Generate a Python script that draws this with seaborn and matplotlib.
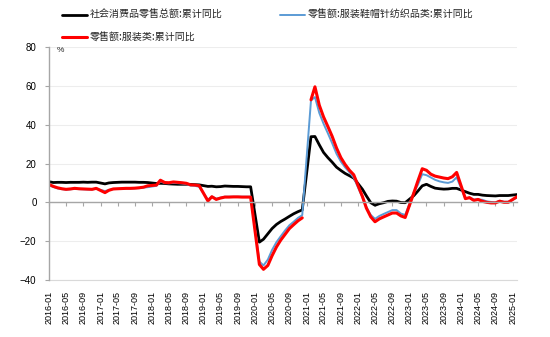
import numpy as np
import pandas as pd
import matplotlib
matplotlib.use("Agg")
import matplotlib.pyplot as plt
import matplotlib.dates as mdates
import seaborn as sns

# ---------------- data (cumulative YoY, %) ----------------
# one list per year, months Jan..Dec; None = month not published (Jan)
total_retail = {
    2016: [10.6, 10.2, 10.3, 10.3, 10.2, 10.3, 10.3, 10.3, 10.4, 10.3, 10.4, 10.4],
    2017: [None, 9.5, 10.0, 10.2, 10.3, 10.4, 10.4, 10.4, 10.4, 10.3, 10.3, 10.2],
    2018: [None, 9.7, 9.8, 9.7, 9.5, 9.4, 9.3, 9.3, 9.3, 9.2, 9.1, 9.0],
    2019: [None, 8.2, 8.3, 8.0, 8.1, 8.4, 8.3, 8.2, 8.2, 8.1, 8.0, 8.0],
    2020: [None, -20.5, -19.0, -16.2, -13.5, -11.4, -9.9, -8.6, -7.2, -5.9, -4.8, -3.9],
    2021: [None, 33.8, 33.9, 29.6, 25.7, 23.0, 20.7, 18.1, 16.4, 14.9, 13.7, 12.5],
    2022: [None, 6.7, 3.3, -0.2, -1.5, -0.7, -0.2, 0.5, 0.7, 0.6, -0.1, -0.2],
    2023: [None, 3.5, 5.8, 8.5, 9.3, 8.2, 7.3, 7.0, 6.8, 6.9, 7.2, 7.2],
    2024: [None, 5.5, 4.7, 4.1, 4.1, 3.7, 3.5, 3.4, 3.3, 3.5, 3.5, 3.5],
    2025: [None, 4.0],
}
apparel_textile = {
    2016: [8.8, 7.9, 7.2, 6.8, 6.5, 6.7, 7.0, 6.8, 6.7, 6.6, 6.6, 7.0],
    2017: [None, 5.8, 6.4, 6.8, 6.9, 7.0, 7.1, 7.1, 7.2, 7.3, 7.6, 7.8],
    2018: [None, 8.5, 10.8, 9.9, 9.8, 10.0, 9.9, 9.7, 9.4, 8.6, 8.5, 8.0],
    2019: [None, 1.3, 3.0, 1.9, 2.4, 2.9, 2.9, 2.9, 2.9, 2.9, 2.9, 2.9],
    2020: [None, -30.5, -32.5, -29.5, -24.5, -20.5, -17.5, -14.5, -11.8, -10.0, -8.0, -6.6],
    2021: [None, 52.5, 54.2, 46.0, 40.5, 35.5, 30.5, 25.0, 21.0, 18.0, 15.5, 12.7],
    2022: [None, 2.5, -2.5, -6.5, -8.5, -7.0, -6.0, -5.0, -4.0, -4.0, -5.8, -6.5],
    2023: [None, 5.4, 9.0, 14.5, 14.0, 12.8, 11.6, 10.8, 10.3, 10.0, 10.7, 12.9],
    2024: [None, 1.9, 2.5, 1.5, 1.5, 1.3, 0.5, 0.2, -0.1, 0.8, 0.3, 0.3],
    2025: [None, 2.4],
}
apparel = {
    2016: [9.2, 8.2, 7.5, 7.0, 6.7, 6.9, 7.2, 7.0, 6.9, 6.8, 6.7, 7.2],
    2017: [None, 5.0, 6.2, 6.9, 7.0, 7.1, 7.2, 7.2, 7.3, 7.5, 7.8, 8.5],
    2018: [None, 8.9, 11.4, 10.2, 10.1, 10.5, 10.3, 10.1, 9.8, 9.0, 8.9, 8.6],
    2019: [None, 0.7, 2.9, 1.5, 2.2, 2.7, 2.7, 2.8, 2.8, 2.7, 2.7, 2.7],
    2020: [None, -32.0, -34.5, -32.5, -27.5, -23.0, -19.5, -16.5, -13.5, -11.5, -9.5, -8.0],
    2021: [None, 52.8, 59.5, 50.0, 44.0, 39.0, 34.0, 28.0, 23.0, 19.5, 16.5, 14.2],
    2022: [None, 3.0, -3.0, -7.5, -10.0, -8.5, -7.5, -6.5, -5.5, -5.5, -7.0, -7.8],
    2023: [None, 5.0, 11.0, 17.3, 16.5, 14.5, 13.5, 13.0, 12.5, 12.2, 13.2, 15.4],
    2024: [None, 1.9, 2.4, 1.0, 1.5, 0.5, 0.0, -0.3, -0.3, 0.6, 0.0, 0.0],
    2025: [None, 2.9],
}
apparel_break = "2021-01"   # the apparel line is interrupted here

labels = ["社会消费品零售总额:累计同比",
          "零售额:服装鞋帽针纺织品类:累计同比",
          "零售额:服装类:累计同比"]
colors = ["#000000", "#5B9BD5", "#FF0000"]
widths = [2.0, 1.4, 2.2]


def to_frame(d):
    rows = []
    for y, vals in d.items():
        for m, v in enumerate(vals, start=1):
            rows.append((pd.Timestamp(year=y, month=m, day=1), v))
    return pd.DataFrame(rows, columns=["date", "value"])


# ---------------- style ----------------
sns.set_theme(style="white")
plt.rcParams["font.family"] = ["Liberation Sans", "Noto Sans CJK SC", "DejaVu Sans"]

fig = plt.figure(figsize=(5.5, 3.37), dpi=100)
ax = fig.add_axes([49 / 550, 1 - 280 / 337, 468 / 550, 233 / 337])

for d, lab, c, w in zip([total_retail, apparel_textile, apparel], labels, colors, widths):
    df = to_frame(d).dropna()
    if d is apparel:
        brk = pd.Timestamp(apparel_break)
        parts = [df[df.date < brk], df[df.date > brk]]
    else:
        parts = [df]
    for k, p in enumerate(parts):
        sns.lineplot(data=p, x="date", y="value", ax=ax, color=c, lw=w,
                     label=lab if k == 0 else None, legend=False)

# axes limits
start = pd.Timestamp("2016-01-01")
end = pd.Timestamp("2025-02-01")
ax.set_xlim(start, end)
ax.set_ylim(-40, 80)
ax.set_yticks(np.arange(-40, 81, 20))
ax.set_xlabel("")
ax.set_ylabel("")

# grid
ax.grid(axis="y", color="#EDEDED", lw=0.8)
ax.grid(axis="x", visible=False)
ax.set_axisbelow(True)

# spines
for s in ["top", "right"]:
    ax.spines[s].set_visible(False)
ax.spines["left"].set_color("#A6A6A6")
ax.spines["left"].set_linewidth(1.0)
ax.spines["bottom"].set_position(("data", 0))
ax.spines["bottom"].set_color("#A6A6A6")
ax.spines["bottom"].set_linewidth(1.0)

ticks = pd.date_range("2016-01-01", "2025-01-01", freq="4MS")
ax.set_xticks(ticks)
ax.tick_params(axis="x", which="both", direction="out", length=3, width=0.8,
               color="#A6A6A6", labelbottom=False, bottom=True)
ax.tick_params(axis="y", direction="out", length=3, width=0.8, color="#A6A6A6",
               labelsize=7, pad=6, left=True, labelcolor="#000000")

sec = ax.secondary_xaxis(location=0)
sec.set_xticks(ticks)
sec.xaxis.set_major_formatter(mdates.DateFormatter("%Y-%m"))
sec.tick_params(axis="x", length=0, labelsize=6.5, rotation=90, pad=8, labelcolor="#000000")
sec.spines["bottom"].set_color("#D9D9D9")
sec.spines["bottom"].set_linewidth(0.8)

ax.text(0.016, 0.985, "%", transform=ax.transAxes, fontsize=6, va="center", ha="left")

# legend
h, l = ax.get_legend_handles_labels()
hm = dict(zip(l, h))
leg_h = [hm[labels[0]], hm[labels[2]], hm[labels[1]]]
leg_l = [labels[0], labels[2], labels[1]]
fig.legend(leg_h, leg_l, ncol=2, loc="upper left",
           bbox_to_anchor=(62 / 550, 1 - 10 / 337), frameon=False,
           prop={"family": ["Noto Sans CJK SC", "DejaVu Sans"], "size": 7.2},
           handlelength=2.5, handletextpad=0.3, columnspacing=5.7,
           labelspacing=1.25, borderpad=0, borderaxespad=0)

fig.savefig("out.png", dpi=100)
